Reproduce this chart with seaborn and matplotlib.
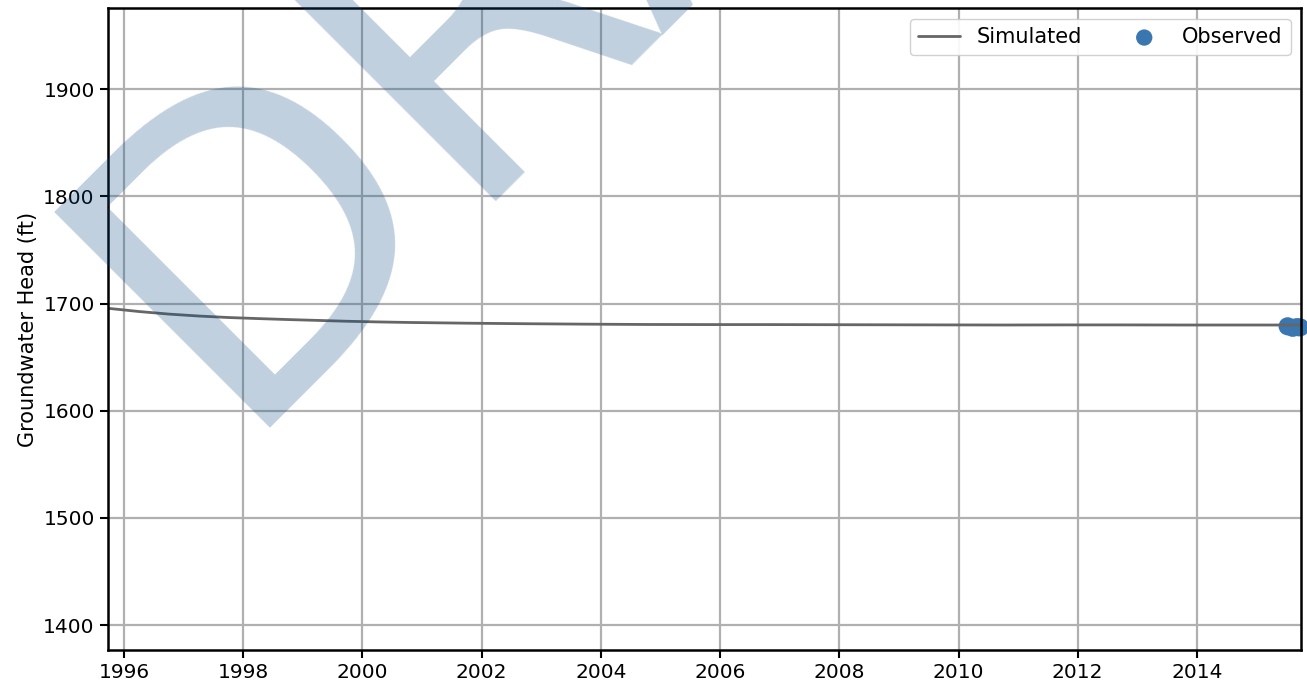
import pandas as pd
import matplotlib
matplotlib.use("Agg")
import matplotlib.pyplot as plt
import seaborn as sns

# simulated groundwater head (ft)
sim_dates = ["1995-10-01", "1996-04-01", "1996-10-01", "1997-04-01", "1997-10-01",
             "1998-04-01", "1998-10-01", "1999-04-01", "1999-10-01", "2000-04-01",
             "2000-10-01", "2001-10-01", "2002-10-01", "2003-10-01", "2004-10-01",
             "2005-10-01", "2006-10-01", "2007-10-01", "2008-10-01", "2009-10-01",
             "2010-10-01", "2011-10-01", "2012-10-01", "2013-10-01", "2014-10-01",
             "2015-09-30"]
sim_head = [1695.5, 1692.6, 1690.2, 1688.4, 1687.0,
            1686.0, 1685.1, 1684.3, 1683.5, 1682.9,
            1682.4, 1681.7, 1681.2, 1680.8, 1680.5,
            1680.4, 1680.4, 1680.3, 1680.2, 1680.1,
            1680.0, 1680.1, 1680.1, 1680.0, 1680.0,
            1680.0]

# observed groundwater head (ft)
obs_dates = ["2015-07-10", "2015-08-10", "2015-09-05", "2015-09-25"]
obs_head = [1678.8, 1677.4, 1678.0, 1677.8]

sim = pd.DataFrame({"date": pd.to_datetime(sim_dates), "head": sim_head})
obs = pd.DataFrame({"date": pd.to_datetime(obs_dates), "head": obs_head})

sns.set_style("ticks")
plt.rcParams["font.family"] = ["DejaVu Sans"]
plt.rcParams["font.size"] = 15
plt.rcParams["text.color"] = "black"
plt.rcParams["axes.labelcolor"] = "black"
plt.rcParams["xtick.color"] = "black"
plt.rcParams["ytick.color"] = "black"

fig, ax = plt.subplots(figsize=(13.07, 6.89), dpi=100)
fig.subplots_adjust(left=0.0826, right=0.9954, top=0.988, bottom=0.0566)

sns.lineplot(data=sim, x="date", y="head", ax=ax, color="#666666", linewidth=2.0,
             label="Simulated")
sns.scatterplot(data=obs, x="date", y="head", ax=ax, color="#3a76b0", s=170,
                edgecolor="none", label="Observed", clip_on=False)

ax.set_xlim(pd.Timestamp("1995-09-25"), pd.Timestamp("2015-09-30"))
ax.set_ylim(1376.7, 1975.6)
ax.set_xlabel("")
ax.set_ylabel("Groundwater Head (ft)", fontsize=15)
ax.xaxis.set_major_locator(matplotlib.dates.YearLocator(2))
ax.xaxis.set_major_formatter(matplotlib.dates.DateFormatter("%Y"))
ax.grid(True, color="#b0b0b0", linewidth=1.6)
ax.tick_params(labelsize=14.5, length=6, width=1.5, color="black", labelcolor="black")
for sp in ax.spines.values():
    sp.set_color("black")
    sp.set_linewidth(1.8)

ax.legend(loc="upper right", ncol=2, fontsize=15, markerscale=0.9,
          framealpha=0.9, edgecolor="#cccccc")

# DRAFT watermark
fig.text(0.1752, 0.3788, "DRAFT", fontsize=300, rotation=45, rotation_mode="anchor",
         ha="left", va="baseline", color=(0.04, 0.29, 0.51), alpha=0.26, zorder=10)

fig.savefig("out.png", dpi=100)
